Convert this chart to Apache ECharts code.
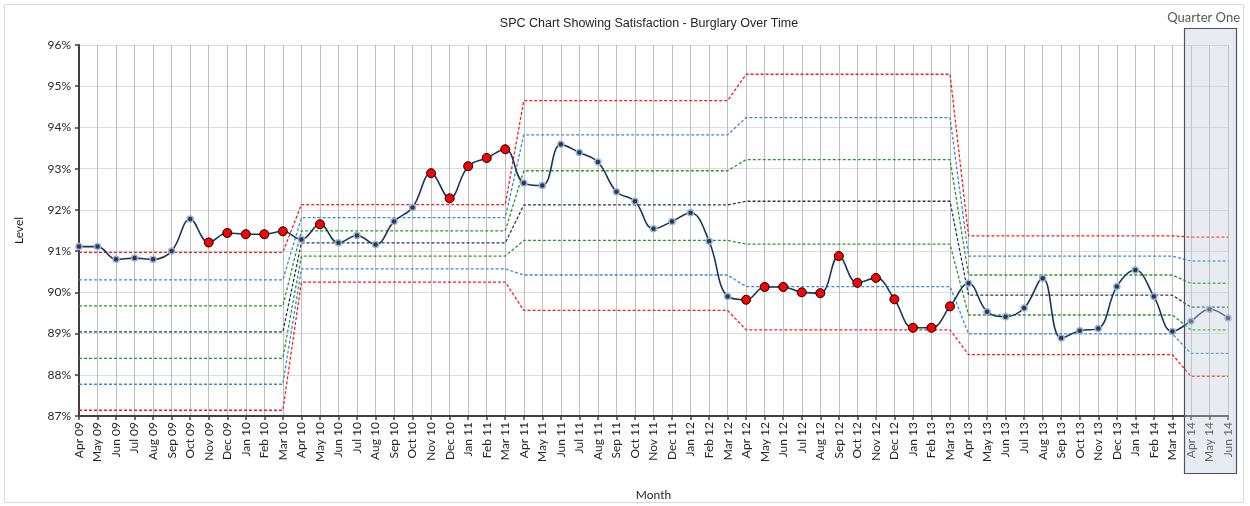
<!DOCTYPE html>
<html>
<head>
<meta charset="utf-8">
<script src="https://cdn.jsdelivr.net/npm/echarts@6/dist/echarts.min.js"></script>
<style>
html,body{margin:0;padding:0;background:#fff;}
#chart{width:1250px;height:506px;}
</style>
</head>
<body>
<div id="chart"></div>
<script>
// ---- Data ----
const months = ['Apr 09','May 09','Jun 09','Jul 09','Aug 09','Sep 09','Oct 09','Nov 09','Dec 09','Jan 10','Feb 10','Mar 10',
  'Apr 10','May 10','Jun 10','Jul 10','Aug 10','Sep 10','Oct 10','Nov 10','Dec 10','Jan 11','Feb 11','Mar 11',
  'Apr 11','May 11','Jun 11','Jul 11','Aug 11','Sep 11','Oct 11','Nov 11','Dec 11','Jan 12','Feb 12','Mar 12',
  'Apr 12','May 12','Jun 12','Jul 12','Aug 12','Sep 12','Oct 12','Nov 12','Dec 12','Jan 13','Feb 13','Mar 13',
  'Apr 13','May 13','Jun 13','Jul 13','Aug 13','Sep 13','Oct 13','Nov 13','Dec 13','Jan 14','Feb 14','Mar 14',
  'Apr 14','May 14','Jun 14'];

const satisfaction = [91.11,91.11,90.80,90.83,90.80,91.00,91.78,91.21,91.44,91.41,91.41,91.48,
  91.28,91.65,91.20,91.38,91.16,91.72,92.06,92.89,92.28,93.06,93.26,93.47,
  92.65,92.59,93.59,93.39,93.16,92.44,92.21,91.54,91.72,91.93,91.24,89.90,
  89.82,90.13,90.13,90.00,89.98,90.88,90.23,90.35,89.83,89.14,89.14,89.66,
  90.22,89.53,89.41,89.62,90.34,88.89,89.07,89.12,90.14,90.54,89.90,89.05,
  89.30,89.59,89.38];

// 1 = flagged (red) point
const flagged = [0,0,0,0,0,0,0,1,1,1,1,1,
  0,1,0,0,0,0,0,1,1,1,1,1,
  0,0,0,0,0,0,0,0,0,0,0,0,
  1,1,1,1,1,1,1,1,1,1,1,1,
  0,0,0,0,0,0,0,0,0,0,0,0,
  0,0,0];

// control limits per period (months in each period)
const periodLengths = [12,12,12,12,12,3];
const ucl    = [90.97, 92.13, 94.65, 95.29, 91.37, 91.34];
const plus2  = [90.30, 91.81, 93.82, 94.24, 90.88, 90.76];
const plus1  = [89.67, 91.49, 92.95, 93.22, 90.42, 90.22];
const centre = [89.04, 91.20, 92.12, 92.21, 89.93, 89.64];
const minus1 = [88.40, 90.88, 91.26, 91.17, 89.45, 89.09];
const minus2 = [87.77, 90.57, 90.42, 90.14, 88.99, 88.52];
const lcl    = [87.14, 90.25, 89.56, 89.09, 88.49, 87.96];

const yTicks = [87,88,89,90,91,92,93,94,95,96];

// ---- Build ----
function expand(vals){
  const out = [];
  periodLengths.forEach((n,i)=>{ for(let k=0;k<n;k++) out.push(vals[i]); });
  return out;
}
function limitSeries(name, vals, color){
  return {
    name, type:'line', data: expand(vals), symbol:'none', silent:true,
    lineStyle:{color, width:1.3, type:[3,2]}, z:2, animation:false
  };
}
const RED='#ff1a1a', BLUE='#3a8ad2', GREEN='#2a982a', NAVY='#1f3864';

const dataPoints = satisfaction.map((v,i)=> flagged[i] ? {
  value:v, symbolSize:9, itemStyle:{color:'#ff0000', borderColor:'#000', borderWidth:1}
} : {
  value:v, symbolSize:6, itemStyle:{color:'#1f3864', borderColor:'#9fb1c5', borderWidth:1.5}
});

const chart = echarts.init(document.getElementById('chart'), null, {renderer:'canvas'});
const FONT = 'Lato, "Liberation Sans", sans-serif';
const option = {
  animation:false,
  backgroundColor:'#fff',
  title:{
    text:'SPC Chart Showing Satisfaction - Burglary Over Time',
    left:644, top:12, textAlign:'center',
    textStyle:{fontFamily:'"Liberation Sans", Arial, sans-serif', fontSize:12.5, fontWeight:'normal', color:'#262626'}
  },
  grid:{left:79, right:22, top:45, bottom:87},
  xAxis:{
    type:'category', data:months, boundaryGap:false,
    name:'Month', nameLocation:'middle', nameGap:73,
    nameTextStyle:{fontFamily:FONT, fontSize:12, color:'#262626'},
    axisLine:{lineStyle:{color:'#404040', width:2}},
    axisTick:{show:true, alignWithLabel:true, length:4, lineStyle:{color:'#404040', width:1.5}},
    axisLabel:{rotate:90, interval:0, margin:6, fontFamily:FONT, fontSize:12, color:'#262626'},
    splitLine:{show:true, interval:0, lineStyle:{color:'#bfbfbf', width:1}}
  },
  yAxis:{
    type:'value', min:yTicks[0], max:yTicks[yTicks.length-1], interval:1,
    name:'Level', nameLocation:'middle', nameGap:54, nameRotate:90,
    nameTextStyle:{fontFamily:FONT, fontSize:12, color:'#262626'},
    axisLine:{show:true, lineStyle:{color:'#404040', width:2}},
    axisTick:{show:true, length:4, lineStyle:{color:'#404040', width:1.5}},
    axisLabel:{formatter:'{value}%', fontFamily:FONT, fontSize:12, color:'#262626', margin:8},
    splitLine:{show:true, lineStyle:{color:'#dcdcdc', width:1}}
  },
  series:[
    limitSeries('UCL', ucl, RED),
    limitSeries('+2 sigma', plus2, BLUE),
    limitSeries('+1 sigma', plus1, GREEN),
    limitSeries('Mean', centre, NAVY),
    limitSeries('-1 sigma', minus1, GREEN),
    limitSeries('-2 sigma', minus2, BLUE),
    limitSeries('LCL', lcl, RED),
    {
      name:'Satisfaction', type:'line', data:dataPoints, smooth:0.4,
      symbol:'circle', showAllSymbol:true,
      lineStyle:{color:'#17375e', width:1.6}, z:5
    }
  ]
};
chart.setOption(option);

// Quarter One overlay & outer border, positioned from the axis scale
const x0 = chart.convertToPixel({xAxisIndex:0}, months.length-4);
const x1 = chart.convertToPixel({xAxisIndex:0}, months.length-3);
const xEnd = chart.convertToPixel({xAxisIndex:0}, months.length-1);
const step = x1 - x0;
const left = x0 + step*0.6;
const right = xEnd + step*0.43;
const yTop = chart.convertToPixel({yAxisIndex:0}, 96) - 17;
const yBottom = chart.convertToPixel({yAxisIndex:0}, 87) + 57;

chart.setOption({
  graphic:[
    {type:'rect', shape:{x:4.5, y:4.5, width:1239, height:498}, style:{fill:'none', stroke:'#d9d9d9', lineWidth:1}, z:0, silent:true},
    {type:'rect', shape:{x:Math.round(left)+0.5, y:Math.round(yTop)+0.5, width:Math.round(right-left), height:Math.round(yBottom-yTop)},
      style:{fill:'rgba(196,206,216,0.39)', stroke:'#44546a', lineWidth:1.2}, z:100, silent:true},
    {type:'text', x:Math.round(right)+4, y:Math.round(yTop)-4,
      style:{text:'Quarter One', fill:'#595959', font:'13px '+FONT, textAlign:'right', textVerticalAlign:'bottom'}, z:100, silent:true}
  ]
});
</script>
</body>
</html>
